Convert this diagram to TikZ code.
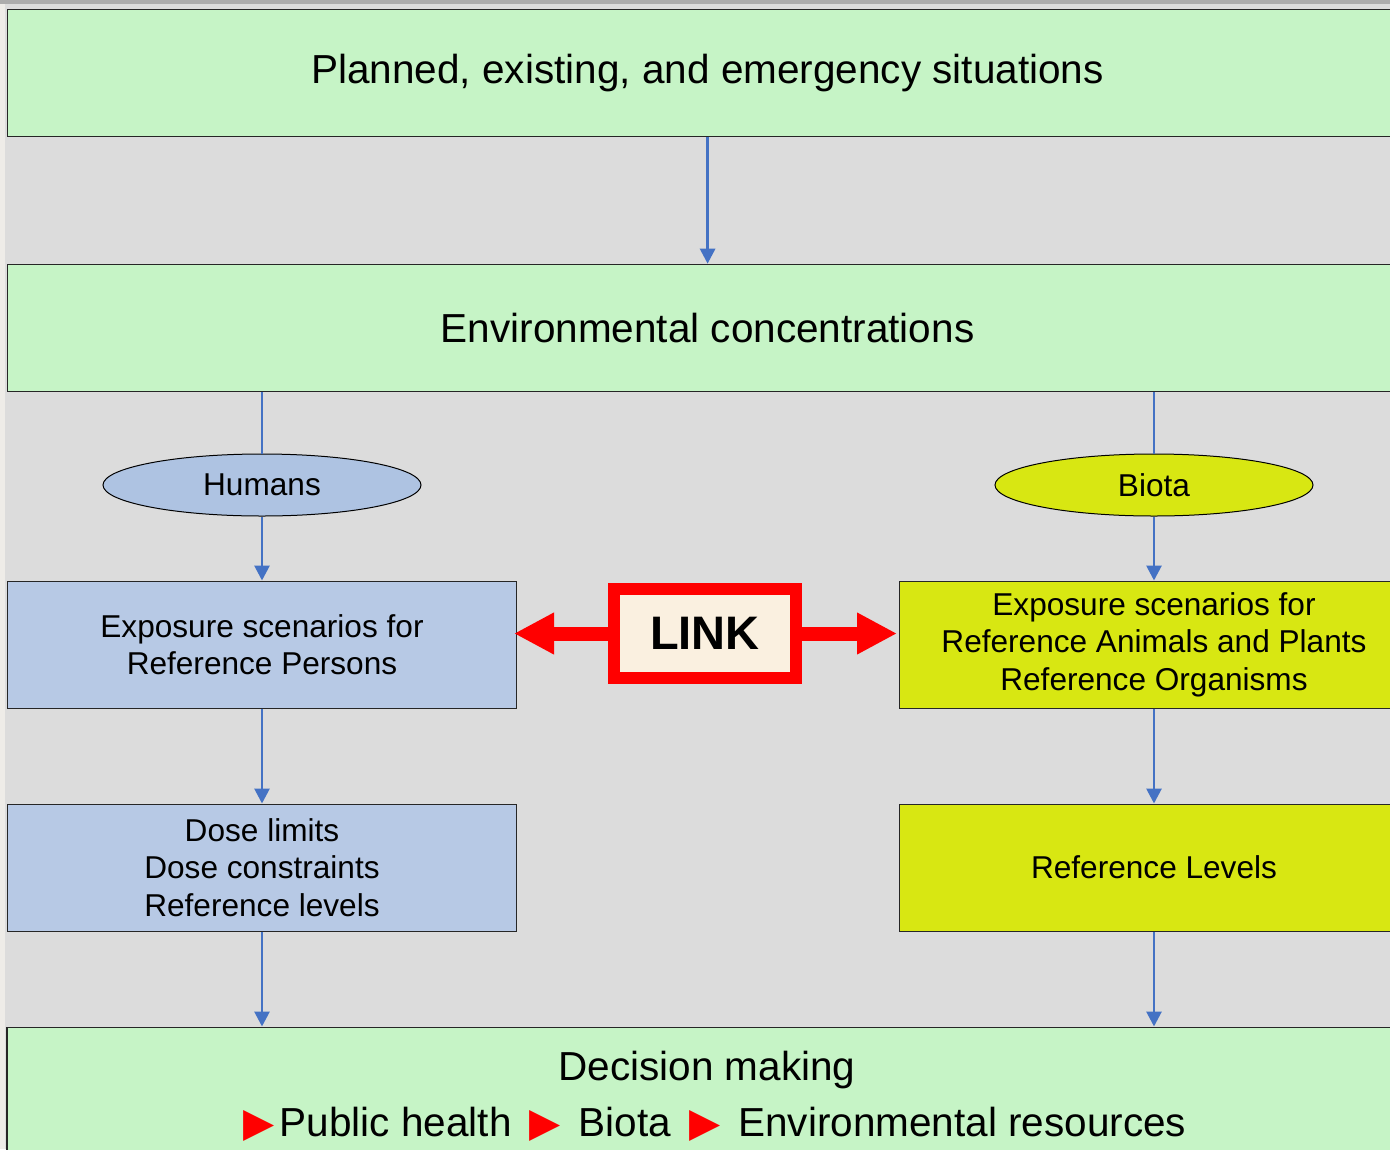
\documentclass[tikz,border=0pt]{standalone}
\usepackage{fontspec}
\setmainfont{Liberation Sans}
\newfontfamily\symfont{DejaVu Sans}
\usepackage{xcolor}
\usetikzlibrary{arrows.meta, positioning, shapes.geometric}

\definecolor{pageGray}{HTML}{DCDCDC}
\definecolor{edgeGray}{HTML}{EEECE8}
\definecolor{sitGreen}{HTML}{C6F4C6}
\definecolor{humBlue}{HTML}{B7C9E5}
\definecolor{humOval}{HTML}{AEC3E2}
\definecolor{bioYellow}{HTML}{D8E712}
\definecolor{arrowBlue}{HTML}{4472C4}
\definecolor{linkCream}{HTML}{FAF0E0}

\newcommand{\redTri}{{\symfont\color{red}▶}}

\begin{document}
\begin{tikzpicture}[
    x=1pt, y=1pt,
    node distance=95pt and 382pt,
    greenbox/.style={draw=black!85, line width=1.2pt, rectangle, fill=sitGreen, minimum width=1400pt, minimum height=127pt, align=center, font=\fontsize{40.5}{56}\selectfont},
    humbox/.style={draw=black!85, line width=1pt, rectangle, fill=humBlue, minimum width=509pt, minimum height=127pt, align=center, font=\fontsize{31.6}{37.5}\selectfont},
    biobox/.style={humbox, fill=bioYellow},
    oval/.style={draw=black, line width=1pt, ellipse, minimum width=318pt, minimum height=62pt, inner sep=0pt, font=\fontsize{31.6}{37.5}\selectfont},
    bluearrow/.style={draw=arrowBlue, line width=2.8pt, -{Triangle[width=15pt,length=15pt]}},
    blueline/.style={draw=arrowBlue, line width=2.8pt},
    linkarrow/.style={draw=red, line width=14pt, -{Triangle[width=39pt,length=40pt]}}
]

% page background
\useasboundingbox (0,0) rectangle (1390,-1149);
\fill[pageGray] (0,0) rectangle (1390,-1149);
\fill[gray!65] (0,0) rectangle (1390,-4);
\fill[edgeGray] (0,-4) rectangle (5,-1149);

% Top row: situations and concentrations
\node[greenbox, anchor=north west] (sit) at (7,-8.5) {Planned, existing, and emergency situations};
\node[greenbox, below=127pt of sit] (envconc) {Environmental concentrations};

% Left column: humans
\node[humbox, anchor=north west] (expHum) at (7,-580.5) {Exposure scenarios for\\Reference Persons};
\node[oval, fill=humOval, above=64pt of expHum] (humans) {Humans};
\node[humbox, below=of expHum] (doseHum) {Dose limits\\Dose constraints\\Reference levels};

% Right column: biota
\node[biobox, right=of expHum] (expBio) {Exposure scenarios for\\Reference Animals and Plants\\Reference Organisms};
\node[oval, fill=bioYellow, above=64pt of expBio] (biota) {Biota};
\node[biobox, below=of expBio] (refBio) {Reference Levels};

% Link between the columns
\node[draw=red, line width=12pt, fill=linkCream, minimum width=182pt, minimum height=89pt, font=\fontsize{47}{56}\bfseries] (link) at (705,-633.5) {LINK};

% Decision box at the bottom
\node[greenbox, anchor=north, minimum height=138pt] (decision) at (707,-1026.5)
    {Decision making\\\hspace*{16pt}\redTri\hspace{5pt}Public health\hspace{18pt}\redTri\hspace{18pt}Biota\hspace{18pt}\redTri\hspace{18pt}Environmental resources};

% Connections
\draw[bluearrow] (sit) -- (envconc);
\draw[blueline] (envconc.south -| humans) -- (humans);
\draw[blueline] (envconc.south -| biota) -- (biota);
\draw[bluearrow] (humans) -- (expHum);
\draw[bluearrow] (biota) -- (expBio);
\draw[bluearrow] (expHum) -- (doseHum);
\draw[bluearrow] (expBio) -- (refBio);
\draw[bluearrow] (doseHum) -- (doseHum |- decision.north);
\draw[bluearrow] (refBio) -- (refBio |- decision.north);

% Link arrows
\draw[linkarrow, shorten >=-3pt] (link.west) -- (link.west -| expHum.east);
\draw[linkarrow, shorten >=2pt] (link.east) -- (link.east -| expBio.west);

\end{tikzpicture}
\end{document}
